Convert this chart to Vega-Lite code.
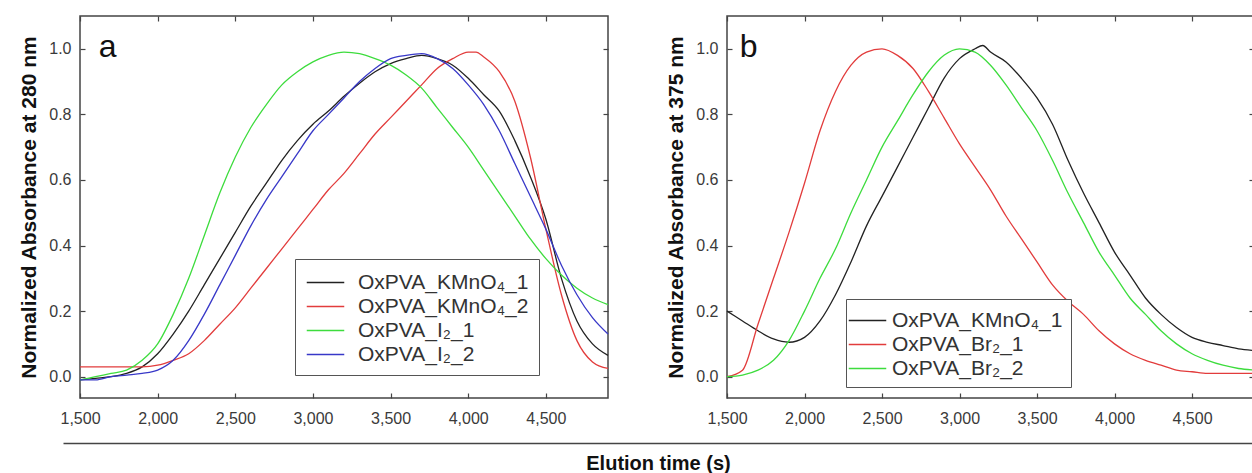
{
  "$schema": "https://vega.github.io/schema/vega-lite/v6.json",
  "padding": {"left": 18, "top": 14, "right": 0, "bottom": 0},
  "config": {
    "font": "Liberation Sans",
    "view": {"stroke": "#444", "strokeWidth": 1.5},
    "axis": {"grid": false, "labelFont": "Liberation Sans", "titleFont": "Liberation Sans", "labelFontSize": 16, "labelColor": "#3a3a3a", "tickColor": "#444", "tickWidth": 1.2, "labelFlush": false}
  },
  "datasets": {
    "a": [
      {"s":"OxPVA_KMnO₄_1","t":1500,"v":-0.01},{"s":"OxPVA_KMnO₄_1","t":1600,"v":-0.005},{"s":"OxPVA_KMnO₄_1","t":1700,"v":0.0},{"s":"OxPVA_KMnO₄_1","t":1800,"v":0.01},{"s":"OxPVA_KMnO₄_1","t":1900,"v":0.03},{"s":"OxPVA_KMnO₄_1","t":2000,"v":0.07},{"s":"OxPVA_KMnO₄_1","t":2100,"v":0.13},{"s":"OxPVA_KMnO₄_1","t":2200,"v":0.2},{"s":"OxPVA_KMnO₄_1","t":2300,"v":0.28},{"s":"OxPVA_KMnO₄_1","t":2400,"v":0.36},{"s":"OxPVA_KMnO₄_1","t":2500,"v":0.44},{"s":"OxPVA_KMnO₄_1","t":2600,"v":0.52},{"s":"OxPVA_KMnO₄_1","t":2700,"v":0.59},{"s":"OxPVA_KMnO₄_1","t":2800,"v":0.66},{"s":"OxPVA_KMnO₄_1","t":2900,"v":0.72},{"s":"OxPVA_KMnO₄_1","t":3000,"v":0.77},{"s":"OxPVA_KMnO₄_1","t":3100,"v":0.81},{"s":"OxPVA_KMnO₄_1","t":3200,"v":0.855},{"s":"OxPVA_KMnO₄_1","t":3300,"v":0.895},{"s":"OxPVA_KMnO₄_1","t":3400,"v":0.93},{"s":"OxPVA_KMnO₄_1","t":3500,"v":0.955},{"s":"OxPVA_KMnO₄_1","t":3600,"v":0.97},{"s":"OxPVA_KMnO₄_1","t":3700,"v":0.98},{"s":"OxPVA_KMnO₄_1","t":3800,"v":0.97},{"s":"OxPVA_KMnO₄_1","t":3900,"v":0.95},{"s":"OxPVA_KMnO₄_1","t":4000,"v":0.91},{"s":"OxPVA_KMnO₄_1","t":4100,"v":0.86},{"s":"OxPVA_KMnO₄_1","t":4200,"v":0.81},{"s":"OxPVA_KMnO₄_1","t":4300,"v":0.72},{"s":"OxPVA_KMnO₄_1","t":4400,"v":0.61},{"s":"OxPVA_KMnO₄_1","t":4500,"v":0.48},{"s":"OxPVA_KMnO₄_1","t":4600,"v":0.3},{"s":"OxPVA_KMnO₄_1","t":4700,"v":0.17},{"s":"OxPVA_KMnO₄_1","t":4800,"v":0.1},{"s":"OxPVA_KMnO₄_1","t":4900,"v":0.065},
      {"s":"OxPVA_KMnO₄_2","t":1500,"v":0.03},{"s":"OxPVA_KMnO₄_2","t":1600,"v":0.03},{"s":"OxPVA_KMnO₄_2","t":1700,"v":0.03},{"s":"OxPVA_KMnO₄_2","t":1800,"v":0.03},{"s":"OxPVA_KMnO₄_2","t":1900,"v":0.03},{"s":"OxPVA_KMnO₄_2","t":2000,"v":0.035},{"s":"OxPVA_KMnO₄_2","t":2100,"v":0.05},{"s":"OxPVA_KMnO₄_2","t":2200,"v":0.07},{"s":"OxPVA_KMnO₄_2","t":2300,"v":0.11},{"s":"OxPVA_KMnO₄_2","t":2400,"v":0.16},{"s":"OxPVA_KMnO₄_2","t":2500,"v":0.21},{"s":"OxPVA_KMnO₄_2","t":2600,"v":0.27},{"s":"OxPVA_KMnO₄_2","t":2700,"v":0.33},{"s":"OxPVA_KMnO₄_2","t":2800,"v":0.39},{"s":"OxPVA_KMnO₄_2","t":2900,"v":0.45},{"s":"OxPVA_KMnO₄_2","t":3000,"v":0.51},{"s":"OxPVA_KMnO₄_2","t":3100,"v":0.57},{"s":"OxPVA_KMnO₄_2","t":3200,"v":0.62},{"s":"OxPVA_KMnO₄_2","t":3300,"v":0.68},{"s":"OxPVA_KMnO₄_2","t":3400,"v":0.74},{"s":"OxPVA_KMnO₄_2","t":3500,"v":0.79},{"s":"OxPVA_KMnO₄_2","t":3600,"v":0.84},{"s":"OxPVA_KMnO₄_2","t":3700,"v":0.89},{"s":"OxPVA_KMnO₄_2","t":3800,"v":0.94},{"s":"OxPVA_KMnO₄_2","t":3900,"v":0.97},{"s":"OxPVA_KMnO₄_2","t":4000,"v":0.99},{"s":"OxPVA_KMnO₄_2","t":4050,"v":0.99},{"s":"OxPVA_KMnO₄_2","t":4100,"v":0.975},{"s":"OxPVA_KMnO₄_2","t":4200,"v":0.93},{"s":"OxPVA_KMnO₄_2","t":4300,"v":0.84},{"s":"OxPVA_KMnO₄_2","t":4400,"v":0.67},{"s":"OxPVA_KMnO₄_2","t":4500,"v":0.45},{"s":"OxPVA_KMnO₄_2","t":4600,"v":0.25},{"s":"OxPVA_KMnO₄_2","t":4700,"v":0.11},{"s":"OxPVA_KMnO₄_2","t":4800,"v":0.045},{"s":"OxPVA_KMnO₄_2","t":4900,"v":0.025},
      {"s":"OxPVA_I₂_1","t":1500,"v":-0.01},{"s":"OxPVA_I₂_1","t":1600,"v":0.0},{"s":"OxPVA_I₂_1","t":1700,"v":0.01},{"s":"OxPVA_I₂_1","t":1800,"v":0.02},{"s":"OxPVA_I₂_1","t":1900,"v":0.05},{"s":"OxPVA_I₂_1","t":2000,"v":0.1},{"s":"OxPVA_I₂_1","t":2100,"v":0.19},{"s":"OxPVA_I₂_1","t":2200,"v":0.3},{"s":"OxPVA_I₂_1","t":2300,"v":0.43},{"s":"OxPVA_I₂_1","t":2400,"v":0.56},{"s":"OxPVA_I₂_1","t":2500,"v":0.67},{"s":"OxPVA_I₂_1","t":2600,"v":0.76},{"s":"OxPVA_I₂_1","t":2700,"v":0.83},{"s":"OxPVA_I₂_1","t":2800,"v":0.89},{"s":"OxPVA_I₂_1","t":2900,"v":0.93},{"s":"OxPVA_I₂_1","t":3000,"v":0.96},{"s":"OxPVA_I₂_1","t":3100,"v":0.98},{"s":"OxPVA_I₂_1","t":3200,"v":0.99},{"s":"OxPVA_I₂_1","t":3300,"v":0.985},{"s":"OxPVA_I₂_1","t":3400,"v":0.97},{"s":"OxPVA_I₂_1","t":3500,"v":0.95},{"s":"OxPVA_I₂_1","t":3600,"v":0.92},{"s":"OxPVA_I₂_1","t":3700,"v":0.88},{"s":"OxPVA_I₂_1","t":3800,"v":0.82},{"s":"OxPVA_I₂_1","t":3900,"v":0.76},{"s":"OxPVA_I₂_1","t":4000,"v":0.7},{"s":"OxPVA_I₂_1","t":4100,"v":0.63},{"s":"OxPVA_I₂_1","t":4200,"v":0.56},{"s":"OxPVA_I₂_1","t":4300,"v":0.49},{"s":"OxPVA_I₂_1","t":4400,"v":0.42},{"s":"OxPVA_I₂_1","t":4500,"v":0.36},{"s":"OxPVA_I₂_1","t":4600,"v":0.31},{"s":"OxPVA_I₂_1","t":4700,"v":0.27},{"s":"OxPVA_I₂_1","t":4800,"v":0.24},{"s":"OxPVA_I₂_1","t":4900,"v":0.22},
      {"s":"OxPVA_I₂_2","t":1500,"v":-0.01},{"s":"OxPVA_I₂_2","t":1600,"v":-0.01},{"s":"OxPVA_I₂_2","t":1700,"v":0.0},{"s":"OxPVA_I₂_2","t":1800,"v":0.005},{"s":"OxPVA_I₂_2","t":1900,"v":0.01},{"s":"OxPVA_I₂_2","t":2000,"v":0.02},{"s":"OxPVA_I₂_2","t":2100,"v":0.05},{"s":"OxPVA_I₂_2","t":2200,"v":0.11},{"s":"OxPVA_I₂_2","t":2300,"v":0.19},{"s":"OxPVA_I₂_2","t":2400,"v":0.28},{"s":"OxPVA_I₂_2","t":2500,"v":0.37},{"s":"OxPVA_I₂_2","t":2600,"v":0.46},{"s":"OxPVA_I₂_2","t":2700,"v":0.54},{"s":"OxPVA_I₂_2","t":2800,"v":0.61},{"s":"OxPVA_I₂_2","t":2900,"v":0.68},{"s":"OxPVA_I₂_2","t":3000,"v":0.75},{"s":"OxPVA_I₂_2","t":3100,"v":0.8},{"s":"OxPVA_I₂_2","t":3200,"v":0.85},{"s":"OxPVA_I₂_2","t":3300,"v":0.9},{"s":"OxPVA_I₂_2","t":3400,"v":0.94},{"s":"OxPVA_I₂_2","t":3500,"v":0.97},{"s":"OxPVA_I₂_2","t":3600,"v":0.98},{"s":"OxPVA_I₂_2","t":3700,"v":0.985},{"s":"OxPVA_I₂_2","t":3800,"v":0.97},{"s":"OxPVA_I₂_2","t":3900,"v":0.94},{"s":"OxPVA_I₂_2","t":4000,"v":0.89},{"s":"OxPVA_I₂_2","t":4100,"v":0.83},{"s":"OxPVA_I₂_2","t":4200,"v":0.75},{"s":"OxPVA_I₂_2","t":4300,"v":0.65},{"s":"OxPVA_I₂_2","t":4400,"v":0.55},{"s":"OxPVA_I₂_2","t":4500,"v":0.45},{"s":"OxPVA_I₂_2","t":4600,"v":0.34},{"s":"OxPVA_I₂_2","t":4700,"v":0.25},{"s":"OxPVA_I₂_2","t":4800,"v":0.18},{"s":"OxPVA_I₂_2","t":4900,"v":0.13}
    ],
    "b": [
      {"s":"OxPVA_KMnO₄_1","t":1500,"v":0.2},{"s":"OxPVA_KMnO₄_1","t":1600,"v":0.17},{"s":"OxPVA_KMnO₄_1","t":1700,"v":0.14},{"s":"OxPVA_KMnO₄_1","t":1800,"v":0.115},{"s":"OxPVA_KMnO₄_1","t":1900,"v":0.105},{"s":"OxPVA_KMnO₄_1","t":2000,"v":0.12},{"s":"OxPVA_KMnO₄_1","t":2100,"v":0.17},{"s":"OxPVA_KMnO₄_1","t":2200,"v":0.25},{"s":"OxPVA_KMnO₄_1","t":2300,"v":0.35},{"s":"OxPVA_KMnO₄_1","t":2400,"v":0.46},{"s":"OxPVA_KMnO₄_1","t":2500,"v":0.55},{"s":"OxPVA_KMnO₄_1","t":2600,"v":0.64},{"s":"OxPVA_KMnO₄_1","t":2700,"v":0.73},{"s":"OxPVA_KMnO₄_1","t":2800,"v":0.82},{"s":"OxPVA_KMnO₄_1","t":2900,"v":0.91},{"s":"OxPVA_KMnO₄_1","t":3000,"v":0.97},{"s":"OxPVA_KMnO₄_1","t":3100,"v":1.0},{"s":"OxPVA_KMnO₄_1","t":3150,"v":1.01},{"s":"OxPVA_KMnO₄_1","t":3200,"v":0.99},{"s":"OxPVA_KMnO₄_1","t":3300,"v":0.96},{"s":"OxPVA_KMnO₄_1","t":3400,"v":0.91},{"s":"OxPVA_KMnO₄_1","t":3500,"v":0.85},{"s":"OxPVA_KMnO₄_1","t":3600,"v":0.77},{"s":"OxPVA_KMnO₄_1","t":3700,"v":0.66},{"s":"OxPVA_KMnO₄_1","t":3800,"v":0.56},{"s":"OxPVA_KMnO₄_1","t":3900,"v":0.47},{"s":"OxPVA_KMnO₄_1","t":4000,"v":0.38},{"s":"OxPVA_KMnO₄_1","t":4100,"v":0.31},{"s":"OxPVA_KMnO₄_1","t":4200,"v":0.24},{"s":"OxPVA_KMnO₄_1","t":4300,"v":0.19},{"s":"OxPVA_KMnO₄_1","t":4400,"v":0.15},{"s":"OxPVA_KMnO₄_1","t":4500,"v":0.12},{"s":"OxPVA_KMnO₄_1","t":4600,"v":0.105},{"s":"OxPVA_KMnO₄_1","t":4700,"v":0.095},{"s":"OxPVA_KMnO₄_1","t":4800,"v":0.085},{"s":"OxPVA_KMnO₄_1","t":4900,"v":0.08},
      {"s":"OxPVA_Br₂_1","t":1500,"v":0.0},{"s":"OxPVA_Br₂_1","t":1600,"v":0.02},{"s":"OxPVA_Br₂_1","t":1700,"v":0.16},{"s":"OxPVA_Br₂_1","t":1800,"v":0.3},{"s":"OxPVA_Br₂_1","t":1900,"v":0.44},{"s":"OxPVA_Br₂_1","t":2000,"v":0.59},{"s":"OxPVA_Br₂_1","t":2100,"v":0.75},{"s":"OxPVA_Br₂_1","t":2200,"v":0.87},{"s":"OxPVA_Br₂_1","t":2300,"v":0.95},{"s":"OxPVA_Br₂_1","t":2400,"v":0.99},{"s":"OxPVA_Br₂_1","t":2500,"v":1.0},{"s":"OxPVA_Br₂_1","t":2600,"v":0.98},{"s":"OxPVA_Br₂_1","t":2700,"v":0.94},{"s":"OxPVA_Br₂_1","t":2800,"v":0.87},{"s":"OxPVA_Br₂_1","t":2900,"v":0.79},{"s":"OxPVA_Br₂_1","t":3000,"v":0.71},{"s":"OxPVA_Br₂_1","t":3100,"v":0.64},{"s":"OxPVA_Br₂_1","t":3200,"v":0.57},{"s":"OxPVA_Br₂_1","t":3300,"v":0.49},{"s":"OxPVA_Br₂_1","t":3400,"v":0.42},{"s":"OxPVA_Br₂_1","t":3500,"v":0.35},{"s":"OxPVA_Br₂_1","t":3600,"v":0.28},{"s":"OxPVA_Br₂_1","t":3700,"v":0.23},{"s":"OxPVA_Br₂_1","t":3800,"v":0.19},{"s":"OxPVA_Br₂_1","t":3900,"v":0.14},{"s":"OxPVA_Br₂_1","t":4000,"v":0.1},{"s":"OxPVA_Br₂_1","t":4100,"v":0.07},{"s":"OxPVA_Br₂_1","t":4200,"v":0.05},{"s":"OxPVA_Br₂_1","t":4300,"v":0.035},{"s":"OxPVA_Br₂_1","t":4400,"v":0.02},{"s":"OxPVA_Br₂_1","t":4500,"v":0.015},{"s":"OxPVA_Br₂_1","t":4600,"v":0.01},{"s":"OxPVA_Br₂_1","t":4700,"v":0.01},{"s":"OxPVA_Br₂_1","t":4800,"v":0.01},{"s":"OxPVA_Br₂_1","t":4900,"v":0.01},
      {"s":"OxPVA_Br₂_2","t":1500,"v":0.0},{"s":"OxPVA_Br₂_2","t":1600,"v":0.005},{"s":"OxPVA_Br₂_2","t":1700,"v":0.02},{"s":"OxPVA_Br₂_2","t":1800,"v":0.05},{"s":"OxPVA_Br₂_2","t":1900,"v":0.11},{"s":"OxPVA_Br₂_2","t":2000,"v":0.2},{"s":"OxPVA_Br₂_2","t":2100,"v":0.3},{"s":"OxPVA_Br₂_2","t":2200,"v":0.39},{"s":"OxPVA_Br₂_2","t":2300,"v":0.5},{"s":"OxPVA_Br₂_2","t":2400,"v":0.6},{"s":"OxPVA_Br₂_2","t":2500,"v":0.7},{"s":"OxPVA_Br₂_2","t":2600,"v":0.78},{"s":"OxPVA_Br₂_2","t":2700,"v":0.86},{"s":"OxPVA_Br₂_2","t":2800,"v":0.93},{"s":"OxPVA_Br₂_2","t":2900,"v":0.98},{"s":"OxPVA_Br₂_2","t":3000,"v":1.0},{"s":"OxPVA_Br₂_2","t":3100,"v":0.99},{"s":"OxPVA_Br₂_2","t":3200,"v":0.95},{"s":"OxPVA_Br₂_2","t":3300,"v":0.89},{"s":"OxPVA_Br₂_2","t":3400,"v":0.82},{"s":"OxPVA_Br₂_2","t":3500,"v":0.75},{"s":"OxPVA_Br₂_2","t":3600,"v":0.66},{"s":"OxPVA_Br₂_2","t":3700,"v":0.56},{"s":"OxPVA_Br₂_2","t":3800,"v":0.47},{"s":"OxPVA_Br₂_2","t":3900,"v":0.38},{"s":"OxPVA_Br₂_2","t":4000,"v":0.31},{"s":"OxPVA_Br₂_2","t":4100,"v":0.24},{"s":"OxPVA_Br₂_2","t":4200,"v":0.19},{"s":"OxPVA_Br₂_2","t":4300,"v":0.14},{"s":"OxPVA_Br₂_2","t":4400,"v":0.1},{"s":"OxPVA_Br₂_2","t":4500,"v":0.07},{"s":"OxPVA_Br₂_2","t":4600,"v":0.05},{"s":"OxPVA_Br₂_2","t":4700,"v":0.035},{"s":"OxPVA_Br₂_2","t":4800,"v":0.025},{"s":"OxPVA_Br₂_2","t":4900,"v":0.02}
    ]
  },
  "align": "none",
  "spacing": 29,
  "vconcat": [
    {
      "hconcat": [
        {
          "width": 528, "height": 382,
          "layer": [
            {
              "data": {"name": "a"},
              "mark": {"type": "line", "strokeWidth": 1.3, "interpolate": "monotone"},
              "encoding": {
                "x": {"field": "t", "type": "quantitative", "scale": {"domain": [1500, 4900], "nice": false, "zero": false},
                      "axis": {"values": [1500, 2000, 2500, 3000, 3500, 4000, 4500], "format": ",d", "title": null, "domain": false, "tickSize": -5, "labelPadding": 17, "labelFlush": false}},
                "y": {"field": "v", "type": "quantitative", "scale": {"domain": [-0.065, 1.1], "nice": false, "zero": false},
                      "axis": {"values": [0, 0.2, 0.4, 0.6, 0.8, 1.0], "format": ".1f", "title": "Normalized Absorbance at 280 nm", "domain": false, "tickSize": -5, "labelPadding": 14, "titleFontSize": 21, "titleFontWeight": "bold", "titleColor": "#111", "titlePadding": 9}},
                "color": {"field": "s", "type": "nominal",
                          "scale": {"domain": ["OxPVA_KMnO₄_1", "OxPVA_KMnO₄_2", "OxPVA_I₂_1", "OxPVA_I₂_2"], "range": ["#222222", "#e23c3c", "#3ddc3d", "#3838c8"]},
                          "legend": {"orient": "none", "legendX": 215, "legendY": 243, "title": null, "symbolType": "M-1.5,0H1.5", "symbolSize": 625, "symbolStrokeWidth": 1.5, "symbolOffset": 7, "labelFontSize": 21, "labelLimit": 0, "labelColor": "#333", "labelFont": "Liberation Sans", "labelOffset": 19, "strokeColor": "#555", "fillColor": "white", "padding": 10, "rowPadding": 0}}
              }
            },
            {
              "data": {"values": [{}]},
              "mark": {"type": "text", "text": "a", "fontSize": 32, "align": "left", "baseline": "alphabetic", "color": "#111"},
              "encoding": {
                "x": {"datum": 1620, "type": "quantitative", "axis": {"orient": "top", "values": [1500, 2000, 2500, 3000, 3500, 4000, 4500], "labels": false, "title": null, "domain": false, "tickSize": -5}},
                "y": {"datum": 0.975, "type": "quantitative", "axis": {"orient": "right", "values": [0, 0.2, 0.4, 0.6, 0.8, 1.0], "labels": false, "title": null, "domain": false, "tickSize": -5}}
              }
            }
          ],
          "resolve": {"axis": {"x": "independent", "y": "independent"}}
        },
        {
          "width": 527, "height": 382,
          "layer": [
            {
              "data": {"name": "b"},
              "mark": {"type": "line", "strokeWidth": 1.3, "interpolate": "monotone"},
              "encoding": {
                "x": {"field": "t", "type": "quantitative", "scale": {"domain": [1500, 4900], "nice": false, "zero": false},
                      "axis": {"values": [1500, 2000, 2500, 3000, 3500, 4000, 4500], "format": ",d", "title": null, "domain": false, "tickSize": -5, "labelPadding": 17, "labelFlush": false}},
                "y": {"field": "v", "type": "quantitative", "scale": {"domain": [-0.065, 1.1], "nice": false, "zero": false},
                      "axis": {"values": [0, 0.2, 0.4, 0.6, 0.8, 1.0], "format": ".1f", "title": "Normalized Absorbance at 375 nm", "domain": false, "tickSize": -5, "labelPadding": 14, "titleFontSize": 21, "titleFontWeight": "bold", "titleColor": "#111", "titlePadding": 9}},
                "color": {"field": "s", "type": "nominal",
                          "scale": {"domain": ["OxPVA_KMnO₄_1", "OxPVA_Br₂_1", "OxPVA_Br₂_2"], "range": ["#222222", "#e23c3c", "#3ddc3d"]},
                          "legend": {"orient": "none", "legendX": 119, "legendY": 283, "title": null, "symbolType": "M-1.5,0H1.5", "symbolSize": 625, "symbolStrokeWidth": 1.5, "symbolOffset": 0, "labelFontSize": 21, "labelLimit": 0, "labelColor": "#333", "labelFont": "Liberation Sans", "labelOffset": 11, "strokeColor": "#555", "fillColor": "white", "padding": 8, "rowPadding": 0}}
              }
            },
            {
              "data": {"values": [{}]},
              "mark": {"type": "text", "text": "b", "fontSize": 32, "align": "left", "baseline": "alphabetic", "color": "#111"},
              "encoding": {
                "x": {"datum": 1583, "type": "quantitative", "axis": {"orient": "top", "values": [1500, 2000, 2500, 3000, 3500, 4000, 4500], "labels": false, "title": null, "domain": false, "tickSize": -5}},
                "y": {"datum": 0.975, "type": "quantitative", "axis": {"orient": "right", "values": [0, 0.2, 0.4, 0.6, 0.8, 1.0], "labels": false, "title": null, "domain": false, "tickSize": -5}}
              }
            }
          ],
          "resolve": {"axis": {"x": "independent", "y": "independent"}}
        }
      ],
      "spacing": 53,
      "resolve": {"scale": {"color": "independent"}}
    },
    {
      "width": 1190, "height": 1,
      "view": {"stroke": null},
      "data": {"values": [{}]},
      "mark": {"type": "point", "opacity": 0},
      "encoding": {
        "x": {"datum": 1, "type": "quantitative", "scale": {"domain": [0, 1], "nice": false},
              "axis": {"orient": "bottom", "values": [1], "labels": false, "tickSize": 4, "tickColor": "#444", "domainColor": "#444", "domainWidth": 1.5, "title": "Elution time (s)", "titleFontSize": 20, "titleFontWeight": "bold", "titleColor": "#111", "titlePadding": 6, "translate": -16.5}}
      }
    }
  ]
}
